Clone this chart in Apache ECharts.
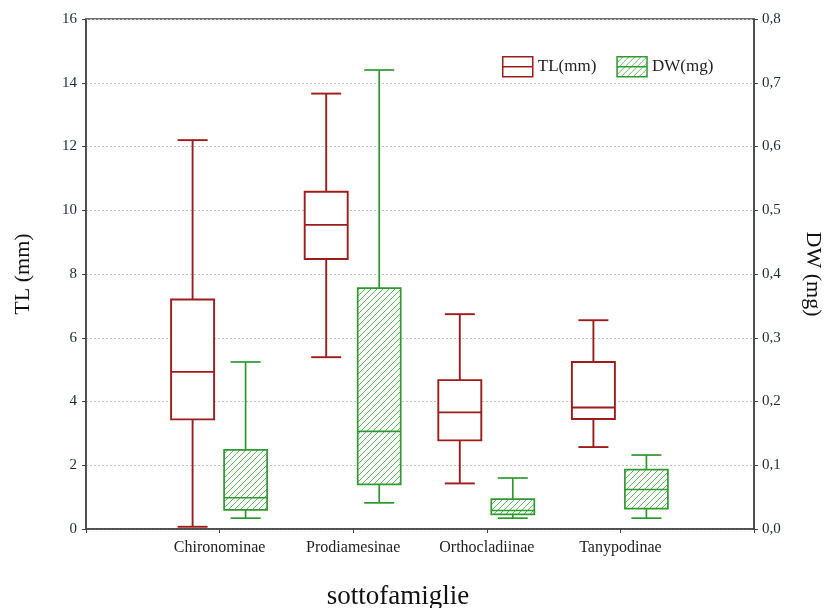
<!DOCTYPE html>
<html><head><meta charset="utf-8">
<script src="https://cdn.jsdelivr.net/npm/echarts@6/dist/echarts.min.js"></script>
<style>html,body{margin:0;padding:0;background:#fff}#c{width:832px;height:608px}</style>
</head><body><div id="c"></div>
<script>
// ---- data ----
const categories = ['Chironominae', 'Prodiamesinae', 'Orthocladiinae', 'Tanypodinae'];
const tlMin = [0.07, 5.39, 1.43, 2.57];
const tlQ1  = [3.44, 8.47, 2.78, 3.45];
const tlMed = [4.93, 9.54, 3.66, 3.81];
const tlQ3  = [7.20, 10.58, 4.67, 5.24];
const tlMax = [12.20, 13.66, 6.74, 6.55];
const dwMin = [0.017, 0.041, 0.017, 0.017];
const dwQ1  = [0.030, 0.070, 0.023, 0.032];
const dwMed = [0.049, 0.153, 0.029, 0.062];
const dwQ3  = [0.124, 0.378, 0.047, 0.093];
const dwMax = [0.262, 0.720, 0.080, 0.116];
const tlTicks = {min: 0, max: 16, interval: 2};
const dwTicks = {min: 0, max: 0.8, interval: 0.1};

// ---- styles ----
const FONT = '"Liberation Serif", "Times New Roman", serif';
const TL_COLOR = '#9e1c1c';
const DW_COLOR = '#2e9a2e';
const HATCH_COLOR = '#4fae4f';
const LABEL_COLOR = '#1e2a3a';

function makeHatch() {
  const c = document.createElement('canvas');
  c.width = 6; c.height = 6;
  const ctx = c.getContext('2d');
  ctx.fillStyle = '#fff'; ctx.fillRect(0, 0, 6, 6);
  ctx.strokeStyle = HATCH_COLOR; ctx.lineWidth = 0.9;
  ctx.beginPath();
  ctx.moveTo(0, 6); ctx.lineTo(6, 0);
  ctx.moveTo(-1, 1); ctx.lineTo(1, -1);
  ctx.moveTo(5, 7); ctx.lineTo(7, 5);
  ctx.stroke();
  return c;
}
const hatch = {image: makeHatch(), repeat: 'repeat'};

const axisCats = [''].concat(categories, ['']);

function boxData(mins, q1s, meds, q3s, maxs) {
  return categories.map((c, i) => [i + 1, mins[i], q1s[i], meds[i], q3s[i], maxs[i]]);
}

function makeRender(offset, color, fill, lw) {
  const W = 43, CAP = 30;
  return function (params, api) {
    const x = api.value(0);
    const cx = api.coord([x, 0])[0] + offset;
    const yMin = api.coord([x, api.value(1)])[1];
    const yQ1 = api.coord([x, api.value(2)])[1];
    const yMed = api.coord([x, api.value(3)])[1];
    const yQ3 = api.coord([x, api.value(4)])[1];
    const yMax = api.coord([x, api.value(5)])[1];
    const ls = {stroke: color, lineWidth: lw, fill: null};
    return {
      type: 'group',
      children: [
        {type: 'line', shape: {x1: cx, y1: yMax, x2: cx, y2: yQ3}, style: ls},
        {type: 'line', shape: {x1: cx, y1: yQ1, x2: cx, y2: yMin}, style: ls},
        {type: 'line', shape: {x1: cx - CAP / 2, y1: yMax, x2: cx + CAP / 2, y2: yMax}, style: ls},
        {type: 'line', shape: {x1: cx - CAP / 2, y1: yMin, x2: cx + CAP / 2, y2: yMin}, style: ls},
        {type: 'rect', shape: {x: cx - W / 2, y: yQ3, width: W, height: yQ1 - yQ3},
          style: {fill: fill, stroke: color, lineWidth: lw}},
        {type: 'line', shape: {x1: cx - W / 2, y1: yMed, x2: cx + W / 2, y2: yMed}, style: ls}
      ]
    };
  };
}

const chart = echarts.init(document.getElementById('c'), null, {renderer: 'canvas'});
chart.setOption({
  animation: false,
  backgroundColor: '#fff',
  grid: {left: 86, right: 77, top: 19, bottom: 79, show: true, borderColor: '#444', borderWidth: 1.5, backgroundColor: 'transparent'},
  legend: {
    left: 497, top: 51, itemWidth: 30, itemHeight: 20, itemGap: 20,
    textStyle: {fontFamily: FONT, fontSize: 17, color: '#222'},
    data: [
      {name: 'TL(mm)', icon: 'path://M0,0H30V20H0Z M0,10H30', itemStyle: {color: '#fff', borderColor: TL_COLOR, borderWidth: 1.5}},
      {name: 'DW(mg)', icon: 'path://M0,0H30V20H0Z M0,10H30', itemStyle: {color: hatch, borderColor: DW_COLOR, borderWidth: 1.5}}
    ]
  },
  xAxis: {
    type: 'category', data: axisCats, boundaryGap: false,
    axisLine: {show: true, lineStyle: {color: '#444', width: 1.5}},
    axisTick: {show: true, length: 4, lineStyle: {color: '#444'}},
    axisLabel: {fontFamily: FONT, fontSize: 16, color: '#222', margin: 11},
    splitLine: {show: false}
  },
  yAxis: [
    {
      type: 'value', position: 'left', min: tlTicks.min, max: tlTicks.max, interval: tlTicks.interval,
      name: 'TL (mm)', nameLocation: 'middle', nameGap: 52,
      nameTextStyle: {fontFamily: FONT, fontSize: 22, color: '#111'},
      axisLine: {show: true, lineStyle: {color: '#444', width: 1.5}},
      axisTick: {show: true, length: 4, lineStyle: {color: '#444'}},
      axisLabel: {fontFamily: FONT, fontSize: 15, color: LABEL_COLOR, margin: 9},
      splitLine: {show: true, lineStyle: {color: '#c0c0c0', type: [2, 2], width: 1}}
    },
    {
      type: 'value', position: 'right', min: dwTicks.min, max: dwTicks.max, interval: dwTicks.interval,
      name: 'DW (mg)', nameLocation: 'middle', nameGap: 48, nameRotate: -90,
      nameTextStyle: {fontFamily: FONT, fontSize: 22, color: '#111'},
      axisLine: {show: true, lineStyle: {color: '#444', width: 1.5}},
      axisTick: {show: true, length: 4, lineStyle: {color: '#444'}},
      axisLabel: {fontFamily: FONT, fontSize: 15, color: LABEL_COLOR, margin: 8,
        formatter: v => v.toFixed(1).replace('.', ',')},
      splitLine: {show: false}
    }
  ],
  graphic: [
    {type: 'text', x: 398, y: 597, style: {text: 'sottofamiglie', font: '27px ' + FONT, fill: '#111', textAlign: 'center', textVerticalAlign: 'middle'}}
  ],
  series: [
    {
      name: 'TL(mm)', type: 'custom', yAxisIndex: 0, itemStyle: {color: TL_COLOR},
      renderItem: makeRender(-27, TL_COLOR, '#fff', 1.9),
      encode: {x: 0, y: [1, 2, 3, 4, 5]},
      data: boxData(tlMin, tlQ1, tlMed, tlQ3, tlMax)
    },
    {
      name: 'DW(mg)', type: 'custom', yAxisIndex: 1, itemStyle: {color: DW_COLOR},
      renderItem: makeRender(26, DW_COLOR, hatch, 1.7),
      encode: {x: 0, y: [1, 2, 3, 4, 5]},
      data: boxData(dwMin, dwQ1, dwMed, dwQ3, dwMax)
    }
  ]
});
</script></body></html>
